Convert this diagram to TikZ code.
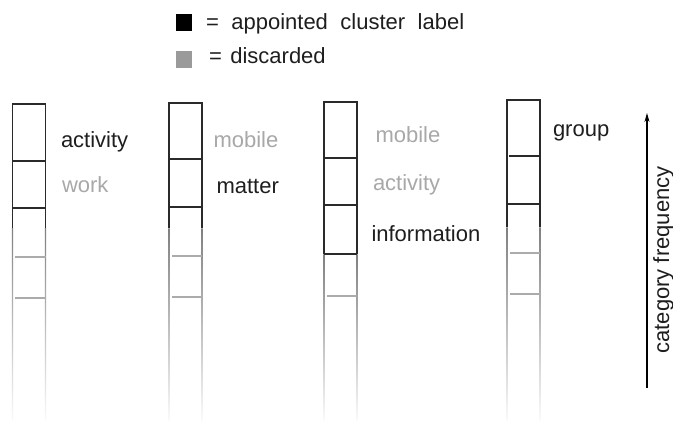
\documentclass[tikz,border=0pt]{standalone}
\usepackage{fontspec}
\setmainfont{Liberation Sans}
\usetikzlibrary{arrows.meta}
\definecolor{txtdark}{HTML}{1E1E1E}
\definecolor{txtgray}{HTML}{A8A8A8}
\definecolor{boxdark}{HTML}{2A2A2A}
\definecolor{rulegray}{HTML}{ABABAB}
\definecolor{keygray}{HTML}{9A9A9A}
\tikzset{
  lbl/.style={inner sep=0pt, outer sep=0pt, anchor=base west, font=\fontsize{22}{26}\selectfont},
  chosen/.style={lbl, text=txtdark},
  dropped/.style={lbl, text=txtgray},
  boxline/.style={draw=boxdark, line width=1.2pt},
  grayrule/.style={draw=rulegray, line width=1.2pt},
  keysq/.style={inner sep=0pt, outer sep=0pt, minimum width=16.5pt, minimum height=17pt, draw=none},
}
% column: #1 left x, #2 right x, #3 top, #4 end of dark sides
\newcommand{\colframe}[4]{%
  \draw[boxline] (#1,#4) -- (#1,#3) -- (#2,#3) -- (#2,#4);
  \shade[top color=black!50, bottom color=black!2] (#1-0.6,#4) rectangle (#1+0.6,420);
  \shade[top color=black!50, bottom color=black!2] (#2-0.6,#4) rectangle (#2+0.6,420);
}
\begin{document}
\begin{tikzpicture}[x=1pt,y=-1pt]
\useasboundingbox[fill=white] (0,0) rectangle (673,426);

% legend
\node[keysq, fill=black] (keyA) at (184,22.5) {};
\node[chosen] (keyAtxt) at (206,29) {{\spaceskip=12.5pt = appointed cluster label}};
\node[keysq, fill=keygray] (keyB) at (184,59.5) {};
\node[chosen] (keyBtxt) at (209,63) {{\spaceskip=8.5pt = discarded}};

% column 1
\colframe{12.5}{45.5}{104}{228}
\draw[boxline] (12.5,161) -- (45.5,161) (12.5,208) -- (45.5,208);
\draw[grayrule] (15,257) -- (45.5,257) (15,298) -- (45.5,298);
\node[chosen]  (c1a) at (61,147) {activity};
\node[dropped] (c1b) at (62,192) {work};

% column 2
\colframe{169}{202}{103}{228}
\draw[boxline] (169,159) -- (202,159) (169,207) -- (202,207);
\draw[grayrule] (172,256) -- (202,256) (172,297) -- (202,297);
\node[dropped] (c2a) at (213.5,147) {mobile};
\node[chosen]  (c2b) at (216.5,193) {matter};

% column 3
\colframe{324}{357}{102}{254}
\draw[boxline] (324,158) -- (357,158) (324,205) -- (357,205) (324,254) -- (357,254);
\draw[grayrule] (327,296) -- (357,296);
\node[dropped] (c3a) at (375.5,142) {mobile};
\node[dropped] (c3b) at (373,190) {activity};
\node[chosen]  (c3c) at (371.5,241) {information};

% column 4
\colframe{507}{540}{100}{227}
\draw[boxline] (509,156) -- (540,156) (507,204) -- (540,204);
\draw[grayrule] (510,253) -- (540,253) (510,294) -- (540,294);
\node[chosen] (c4a) at (553,136) {group};

% frequency axis
\coordinate (axislow) at (647,388);
\coordinate (axishigh) at (647,113);
\draw[-{Stealth[length=9pt,width=5pt]}, line width=1.1pt, draw=black] (axislow) -- (axishigh);
\node[inner sep=0pt, rotate=90, anchor=base, font=\fontsize{22}{26}\selectfont, text=txtdark] (axislbl) at (669,260) {category frequency};
\end{tikzpicture}
\end{document}
